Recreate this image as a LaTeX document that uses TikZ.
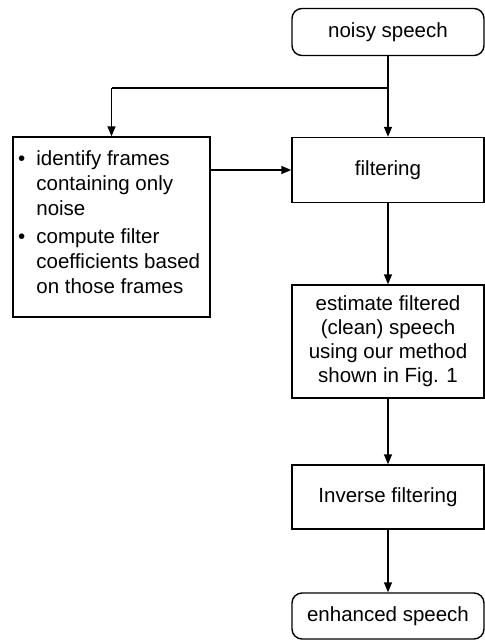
\documentclass[tikz,border=0pt]{standalone}
\usepackage{fontspec}
\setmainfont{Liberation Sans}
\usetikzlibrary{arrows.meta,positioning}
\begin{document}
\begin{tikzpicture}[x=1pt,y=-1pt,
  every node/.style={font=\fontsize{20.5}{24}\selectfont, inner sep=0pt},
  box/.style={draw, line width=1.4pt, align=center},
  term/.style={box, rounded corners=10pt},
  conn/.style={line width=1.4pt, -{Triangle[length=10pt,width=8pt]}},
  plain/.style={line width=1.4pt}]
\useasboundingbox (0,0) rectangle (485,641);
\node[term, minimum width=192pt, minimum height=47pt] (noisy) at (388,32) {noisy speech};
\node[box, minimum width=192pt, minimum height=65pt] (filt) at (388,170) {filtering};
\node[box, minimum width=192pt, minimum height=113pt] (est) at (388,341.5) {estimate filtered\\(clean) speech\\using our method\\shown in Fig. 1};
\node[box, minimum width=192pt, minimum height=64pt] (inv) at (388,497) {Inverse filtering};
\node[term, minimum width=192pt, minimum height=46pt] (enh) at (388,616) {enhanced speech};
\node[box, minimum width=197pt, minimum height=180pt] (ident) at (111.5,227) {};
\node[anchor=north west, align=left, font=\fontsize{20.5}{24.8}\selectfont] (identtext) at (18,148) {%
  \begin{tabular}{@{}l@{\hspace{11pt}}l@{}}
  \textbullet & identify frames\\
   & containing only\\
   & noise\\[4pt]
  \textbullet & compute filter\\
   & coefficients based\\
   & on those frames
  \end{tabular}};
\coordinate (br) at (388,88);
\coordinate (bl) at (111.5,88);
\draw[conn] (noisy.south) -- (filt.north);
\draw[plain] (br) -- (bl);
\draw[conn] (bl) -- (ident.north);
\draw[conn] (ident.east |- filt.west) -- (filt.west);
\draw[conn] (filt.south) -- (est.north);
\draw[conn] (est.south) -- (inv.north);
\draw[conn] (inv.south) -- (enh.north);
\end{tikzpicture}
\end{document}
